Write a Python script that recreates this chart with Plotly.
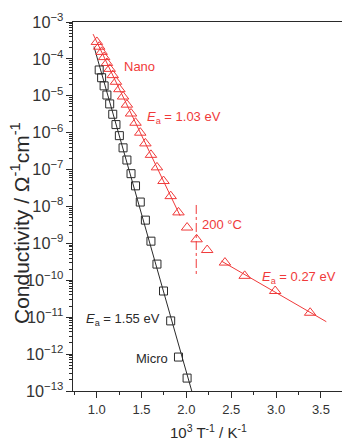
import numpy as np
import plotly.graph_objects as go

# ---- data ----
nano_x = [1.002, 1.028, 1.055, 1.083, 1.114, 1.145, 1.179, 1.215, 1.253, 1.294,
          1.337, 1.383, 1.433, 1.486, 1.543, 1.605, 1.672, 1.745, 1.825, 1.912,
          2.008, 2.114, 2.232, 2.43, 2.65, 2.99, 3.38]
nano_sigma = [2.88e-4, 2.14e-4, 1.55e-4, 1.12e-4, 7.76e-5, 5.37e-5, 3.63e-5, 2.40e-5,
              1.51e-5, 9.55e-6, 5.75e-6, 3.31e-6, 1.86e-6, 1.0e-6, 5.13e-7, 2.51e-7,
              1.15e-7, 4.90e-8, 1.91e-8, 6.92e-9, 2.69e-9, 1.29e-9, 6.61e-10,
              3.02e-10, 1.32e-10, 5.13e-11, 1.32e-11]

micro_x = [1.028, 1.055, 1.083, 1.114, 1.145, 1.179, 1.215, 1.253, 1.294, 1.337,
           1.383, 1.433, 1.486, 1.543, 1.605, 1.672, 1.745, 1.825, 1.912, 2.008]
micro_sigma = [5.01e-5, 3.09e-5, 1.86e-5, 1.05e-5, 6.03e-6, 3.16e-6, 1.66e-6, 8.32e-7,
               3.89e-7, 1.82e-7, 7.76e-8, 3.63e-8, 1.32e-8, 4.27e-9, 1.15e-9, 2.75e-10,
               5.13e-11, 7.94e-12, 8.32e-13, 2.24e-13]

# fit ranges (x extent of the drawn Arrhenius lines)
nano_hi_span = [0.96, 1.93]
nano_lo_span = [2.39, 3.56]
micro_span = [0.97, 2.06]
transition_x = 2.11          # 200 °C
transition_y = [1.1e-8, 1.38e-10]

RED = "#f03a3a"
BLACK = "#2a2a2a"
FONT = "Liberation Sans, Arial, sans-serif"


def fit_line(xs, ys, span):
    k, b = np.polyfit(np.array(xs), np.log10(np.array(ys)), 1)
    xx = np.array(span)
    return xx, 10 ** (k * xx + b)


fig = go.Figure()

# fitted lines
lx, ly = fit_line(nano_x[:20], nano_sigma[:20], nano_hi_span)
fig.add_trace(go.Scatter(x=lx, y=ly, mode="lines", line=dict(color=RED, width=1), showlegend=False))
lx, ly = fit_line(nano_x[-4:], nano_sigma[-4:], nano_lo_span)
fig.add_trace(go.Scatter(x=lx, y=ly, mode="lines", line=dict(color=RED, width=1), showlegend=False))
lx, ly = fit_line(micro_x, micro_sigma, micro_span)
fig.add_trace(go.Scatter(x=lx, y=ly, mode="lines", line=dict(color=BLACK, width=1), showlegend=False))

# transition marker
fig.add_trace(go.Scatter(x=[transition_x, transition_x], y=transition_y, mode="lines",
                         line=dict(color=RED, width=1, dash="dashdot"), showlegend=False))

# data points
fig.add_trace(go.Scatter(x=nano_x, y=nano_sigma, mode="markers", name="Nano",
                         marker=dict(symbol="triangle-up-open", size=10, color=RED,
                                     line=dict(width=1, color=RED)), showlegend=False))
fig.add_trace(go.Scatter(x=micro_x, y=micro_sigma, mode="markers", name="Micro",
                         marker=dict(symbol="square-open", size=8, color=BLACK,
                                     line=dict(width=1, color=BLACK)), showlegend=False))

ann_font = dict(family=FONT, size=13)
annotations = [
    dict(x=1.279, y=-4.21, text="Nano", xanchor="left", yanchor="middle",
         font=dict(color=RED, **ann_font)),
    dict(x=1.538, y=-5.60, text="<i>E</i><sub>a</sub> = 1.03 eV", xanchor="left", yanchor="middle",
         font=dict(color=RED, **ann_font)),
    dict(x=2.15, y=-8.50, text="200 °C", xanchor="left", yanchor="middle",
         font=dict(color=RED, **ann_font)),
    dict(x=2.82, y=-9.93, text="<i>E</i><sub>a</sub> = 0.27 eV", xanchor="left", yanchor="middle",
         font=dict(color=RED, **ann_font)),
    dict(x=1.728, y=-11.07, text="<i>E</i><sub>a</sub> = 1.55 eV", xanchor="right", yanchor="middle",
         font=dict(color=BLACK, **ann_font)),
    dict(x=1.815, y=-12.11, text="Micro", xanchor="right", yanchor="middle",
         font=dict(color=BLACK, **ann_font)),
]
for a in annotations:
    a.update(xref="x", yref="y", showarrow=False)

annotations.append(dict(xref="paper", yref="paper", x=-0.195, y=0.454, textangle=-90,
                        text="Conductivity / Ω<sup>-1</sup>cm<sup>-1</sup>", showarrow=False,
                        xanchor="center", yanchor="middle",
                        font=dict(family=FONT, size=21, color=BLACK)))
annotations.append(dict(xref="paper", yref="paper", x=0.505, y=-0.111,
                        text="10<sup>3</sup> T<sup>-1</sup> / K<sup>-1</sup>", showarrow=False,
                        xanchor="center", yanchor="middle",
                        font=dict(family=FONT, size=15, color=BLACK)))

fig.update_layout(
    width=342, height=443,
    margin=dict(l=73, r=0, t=22, b=52),
    paper_bgcolor="white", plot_bgcolor="white",
    font=dict(family=FONT, size=13, color=BLACK),
    annotations=annotations,
    showlegend=False,
)
fig.update_xaxes(
    range=[0.736, 3.735], tick0=1.0, dtick=0.5, tickformat=".1f", automargin=False,
    showgrid=False, zeroline=False, showline=True, linecolor=BLACK, linewidth=1,
    mirror=True, ticks="outside", ticklen=6, tickcolor=BLACK,
    tickfont=dict(size=13, color="#333"),
    minor=dict(dtick=0.25, ticks="outside", ticklen=3, tickcolor=BLACK, showgrid=False),
)
fig.update_yaxes(
    type="log", range=[-13, -3], dtick=1, exponentformat="power", automargin=False,
    showgrid=False, zeroline=False, showline=True, linecolor=BLACK, linewidth=1,
    mirror=False, ticks="outside", ticklen=6, tickcolor=BLACK,
    tickfont=dict(size=13, color="#333"),
    minor=dict(dtick="D1", ticks="outside", ticklen=3, tickcolor=BLACK, showgrid=False),
)

fig.write_html("out.html", config={"displayModeBar": False},
               post_script="document.body.style.margin='0';")
